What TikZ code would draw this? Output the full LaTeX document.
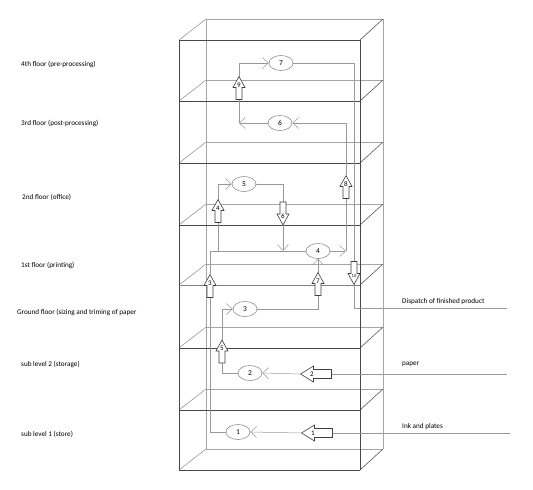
\documentclass[tikz,border=0pt]{standalone}
\usepackage{fontspec}
\setmainfont{Carlito}
\usetikzlibrary{arrows.meta,shapes.geometric}
\newcommand{\blkv}[4]{% name, x, y, angle
  \node[abox,minimum width=12pt,minimum height=23pt] (#1) at (#2,#3) {};
  \draw[barrow,shift={(#1.center)},rotate=#4] (-11.5,-3)--(0.5,-3)--(0.5,-6)--(11.5,0)--(0.5,6)--(0.5,3)--(-11.5,3)--cycle;
}
\newcommand{\blkh}[3]{% name, x, y (pointing left)
  \node[abox,minimum width=31pt,minimum height=16pt] (#1) at (#2,#3) {};
  \draw[barrow,shift={(#1.center)},rotate=180] (-15.5,-4.5)--(2.5,-4.5)--(2.5,-8)--(15.5,0)--(2.5,8)--(2.5,4.5)--(-15.5,4.5)--cycle;
}
\begin{document}
\begin{tikzpicture}[x=1pt,y=-1pt,
  front/.style={draw=black!72,line width=0.7pt},
  back/.style={draw=black!35,line width=0.5pt},
  ledge/.style={draw=black!45,line width=0.5pt},
  redge/.style={draw=black!65,line width=0.6pt},
  conn/.style={draw=black!40,line width=0.5pt},
  tip/.style={-{Straight Barb[length=6pt,width=11pt]}},
  ell/.style={ellipse,draw=black!50,line width=0.5pt,minimum width=24pt,minimum height=15pt,inner sep=0pt,font=\fontsize{7.5}{8}\selectfont},
  abox/.style={inner sep=0pt,outer sep=0pt},
  barrow/.style={draw=black!75,fill=white,line width=0.6pt,line join=miter},
  alab/.style={font=\fontsize{7}{7}\selectfont,inner sep=0pt},
  flabel/.style={anchor=west,font=\fontsize{7.2}{8}\selectfont,inner sep=0pt}
]
\useasboundingbox (0,0) rectangle (533,490);
\fill[white] (0,0) rectangle (533,490);

% ---- building wireframe ----
\draw[back] (206,19) -- (206,449);
\draw[back] (383,19) -- (383,449);
\foreach \y in {40,101,163,225,285,348,410,470} {
  \draw[back] (206,\y-21) -- (383,\y-21);
  \draw[ledge] (179,\y) -- (206,\y-21);
  \draw[redge] (360,\y) -- (383,\y-21);
}
\draw[front] (179,40) -- (179,470);
\draw[front] (360,40) -- (360,470);
\foreach \y in {40,101,163,225,348,410,470} {
  \draw[front] (179,\y) -- (360,\y);
}
\draw[front,draw=black!50] (179,285) -- (360,285);

% ---- floor labels ----
\node[flabel] (f4) at (21,64) {4th floor (pre-processing)};
\node[flabel] (f3) at (21,123) {3rd floor (post-processing)};
\node[flabel] (f2) at (22,197) {2nd floor (office)};
\node[flabel] (f1) at (21,265) {1st floor (printing)};
\node[flabel] (f0) at (17,312) {Ground floor (sizing and triming of paper};
\node[flabel] (fs2) at (21,364) {sub level 2 (storage)};
\node[flabel] (fs1) at (21,434) {sub level 1 (store)};

% ---- process ellipses ----
\node[ell] (e1) at (238,432) {1};
\node[ell] (e2) at (250,373) {2};
\node[ell] (e3) at (245,309) {3};
\node[ell] (e4) at (318,251) {4};
\node[ell] (e5) at (244,184) {5};
\node[ell] (e6) at (280,123) {6};
\node[ell] (e7) at (281,63) {7};

% ---- free ends / corners ----
\coordinate (ink) at (510,433);
\coordinate (pap) at (507,374);
\coordinate (dis) at (507,308);
\coordinate (j4) at (218,251);
\coordinate (j6) at (283,251);
\coordinate (c4) at (346,251);
\coordinate (c6) at (239,123);

% ---- connectors ----
\blkh{a1}{317}{433}
\blkh{a2}{316}{374}
\draw[conn] (ink) -- (a1.east);
\draw[conn,tip] (a1.west) -- (e1.east);
\draw[conn] (pap) -- (a2.east);
\draw[conn,tip] (a2.west) -- (e2.east);

\draw[conn] (e1.west) -| (210,298);
\draw[conn] (210,274) |- (e4.west);
\draw[conn] (e2.west) -| (222,363);
\draw[conn,tip] (222,340) |- (e3.west);
\draw[conn] (e3.east) -| (318,295);
\draw[conn,tip] (318,273) -- (e4.south);
\draw[conn] (j4) -- (218,222);
\draw[conn,tip] (218,200) |- (e5.west);
\draw[conn] (e5.east) -| (283,202);
\draw[conn,tip] (283,225) -- (j6);
\draw[conn,tip] (e4.east) -- (c4);
\draw[conn] (c4) -- (346,199);
\draw[conn,tip] (346,175) |- (e6.east);
\draw[conn,tip] (e6.west) -- (c6);
\draw[conn] (c6) -- (239,99);
\draw[conn,tip] (239,77) |- (e7.west);
\draw[conn] (e7.east) -| (354,263);
\draw[conn] (354,283) |- (dis);

% ---- block arrows ----
\blkv{a3}{210}{286}{90}
\blkv{a4}{218}{211}{90}
\blkv{a5}{222}{351.5}{90}
\blkv{a6}{283}{213.5}{-90}
\blkv{a7}{318}{284}{90}
\blkv{a8}{346}{187}{90}
\blkv{a9}{239}{88}{90}
\blkv{a10}{354}{273}{-90}
\node[alab] (l1) at (313,433) {1};
\node[alab] (l2) at (312,374) {2};
\node[alab] (l3) at (210,283) {3};
\node[alab] (l4) at (218,208) {4};
\node[alab] (l5) at (222,348.5) {5};
\node[alab] (l6) at (283,216.5) {6};
\node[alab] (l7) at (318,281) {7};
\node[alab] (l8) at (346,184) {8};
\node[alab] (l9) at (239,85) {9};
\node[alab,font=\fontsize{4.5}{5}\selectfont] (l10) at (354,276) {10};

% ---- side labels ----
\node[flabel] (tdis) at (402,302) {Dispatch of finished product};
\node[flabel] (tpap) at (402,364) {paper};
\node[flabel] (tink) at (402,427) {Ink and plates};
\end{tikzpicture}
\end{document}
